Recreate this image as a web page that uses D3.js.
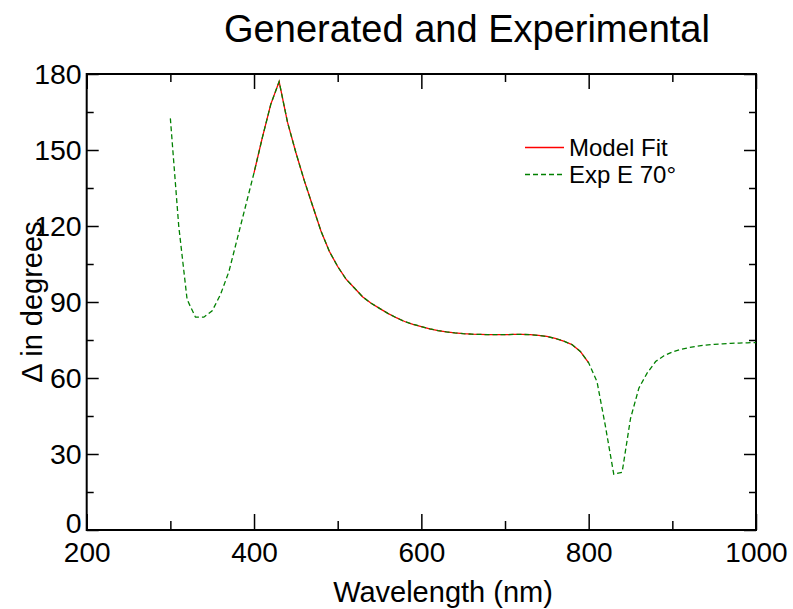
<!DOCTYPE html>
<html>
<head>
<meta charset="utf-8">
<script src="https://cdn.jsdelivr.net/npm/d3@7"></script>
<style>
  html, body { margin: 0; padding: 0; background: #fff; }
  svg text { font-family: "Liberation Sans", Arial, sans-serif; fill: #000; }
</style>
</head>
<body>
<svg id="chart" width="793" height="609"></svg>
<script>
// ---- data ----
const expWavelength = [300,310,320,330,340,350,360,370,380,390,400,410,420,430,440,450,460,470,480,490,
  500,510,520,530,540,550,560,570,580,590,600,610,620,630,640,650,660,670,680,690,
  700,710,720,730,740,750,760,770,780,790,800,810,820,830,840,850,860,870,880,890,
  900,910,920,930,940,950,960,970,980,990,1000];
const expDelta = [162.5,120,91,84,84,86.5,93,102,115,128,141,155,168,177,161,149,138,128,118,110,
  104,99,95.5,92,89.5,87.5,85.5,83.8,82.3,81.2,80.3,79.4,78.7,78.2,77.8,77.5,77.3,77.2,77.1,77.1,
  77.1,77.2,77.2,77.1,76.8,76.4,75.6,74.6,73.2,70.5,66,58.5,41,22,22.8,44,56,62,66.5,68.8,
  70.3,71.3,72,72.6,73,73.3,73.5,73.7,73.8,73.9,74];
const fitWavelength = [400,410,420,430,440,450,460,470,480,490,
  500,510,520,530,540,550,560,570,580,590,600,610,620,630,640,650,660,670,680,690,
  700,710,720,730,740,750,760,770,780,790,800];
const fitDelta = [141,155,168,177,161,149,138,128,118,110,
  104,99,95.5,92,89.5,87.5,85.5,83.8,82.3,81.2,80.3,79.4,78.7,78.2,77.8,77.5,77.3,77.2,77.1,77.1,
  77.1,77.2,77.2,77.1,76.8,76.4,75.6,74.6,73.2,70.5,66];
const xTicks = [200,400,600,800,1000];
const xMinorTicks = [300,500,700,900];
const yTicks = [0,30,60,90,120,150,180];
const yMinorTicks = [15,45,75,105,135,165];
const titleText = "Generated and Experimental";
const xLabel = "Wavelength (nm)";
const yLabel = "\u0394 in degrees";
const legendLabels = ["Model Fit", "Exp E 70\u00b0"];

// ---- layout ----
const L = 86.7, R = 756, T = 74, B = 530;
const svg = d3.select("#chart");
const x = d3.scaleLinear().domain([200, 1000]).range([L, R]);
const y = d3.scaleLinear().domain([0, 180]).range([B, T]);

// axes with inward ticks
function addAxis(axisFn, scale, tv, size, transform, showLabels, w) {
  const g = svg.append("g").attr("transform", transform)
    .call(axisFn(scale).tickValues(tv).tickSize(size).tickSizeOuter(0)
      .tickFormat(showLabels ? d3.format("d") : ""));
  g.select(".domain").remove();
  g.selectAll(".tick line").attr("stroke", "#000").attr("stroke-width", w);
  return g;
}
// bottom
const gb = addAxis(d3.axisBottom, x, xTicks, -16, `translate(0,${B})`, true, 1.5);
gb.selectAll(".tick text").attr("font-size", 28).attr("y", 0).attr("dy", 0)
  .attr("transform", "translate(0,32)");
addAxis(d3.axisBottom, x, xMinorTicks, -9, `translate(0,${B})`, false, 1.5);
// top
addAxis(d3.axisTop, x, xTicks, -15, `translate(0,${T})`, false, 1.5);
addAxis(d3.axisTop, x, xMinorTicks, -8, `translate(0,${T})`, false, 1.5);
// left
const gl = addAxis(d3.axisLeft, y, yTicks, -12, `translate(${L},0)`, true, 1.5);
gl.selectAll(".tick text").attr("font-size", 28.5).attr("x", -5)
  .attr("dy", d => d === 0 ? "0.1em" : "0.33em");
addAxis(d3.axisLeft, y, yMinorTicks, -7, `translate(${L},0)`, false, 1.5);
// right
addAxis(d3.axisRight, y, yTicks, -12, `translate(${R},0)`, false, 1.5);
addAxis(d3.axisRight, y, yMinorTicks, -7, `translate(${R},0)`, false, 1.5);

// frame
svg.append("rect").attr("x", L).attr("y", T).attr("width", R - L).attr("height", B - T)
  .attr("fill", "none").attr("stroke", "#000").attr("stroke-width", 2);

// lines
const fitData = fitWavelength.map((w, i) => [w, fitDelta[i]]);
const expData = expWavelength.map((w, i) => [w, expDelta[i]]);
const line = d3.line().x(d => x(d[0])).y(d => y(d[1]));
svg.append("path").datum(fitData).attr("d", line)
  .attr("fill", "none").attr("stroke", "#ff0000").attr("stroke-width", 1.3);
svg.append("path").datum(expData).attr("d", line)
  .attr("fill", "none").attr("stroke", "#008000").attr("stroke-width", 1.3)
  .attr("stroke-dasharray", "5,3");

// legend
const lg = svg.append("g");
lg.append("line").attr("x1", 525).attr("x2", 564).attr("y1", 147.5).attr("y2", 147.5)
  .attr("stroke", "#ff0000").attr("stroke-width", 1.3);
lg.append("line").attr("x1", 525).attr("x2", 564).attr("y1", 174.5).attr("y2", 174.5)
  .attr("stroke", "#008000").attr("stroke-width", 1.3).attr("stroke-dasharray", "5,3");
lg.append("text").attr("x", 569).attr("y", 156).attr("font-size", 24).text(legendLabels[0]);
lg.append("text").attr("x", 569).attr("y", 183).attr("font-size", 24).text(legendLabels[1]);

// titles
svg.append("text").attr("x", 467).attr("y", 42).attr("text-anchor", "middle")
  .attr("font-size", 38).text(titleText);
svg.append("text").attr("x", 443).attr("y", 602).attr("text-anchor", "middle")
  .attr("font-size", 29).text(xLabel);
svg.append("text").attr("transform", `translate(42,${(T + B) / 2}) rotate(-90)`)
  .attr("text-anchor", "middle").attr("font-size", 29).text(yLabel);
</script>
</body>
</html>
